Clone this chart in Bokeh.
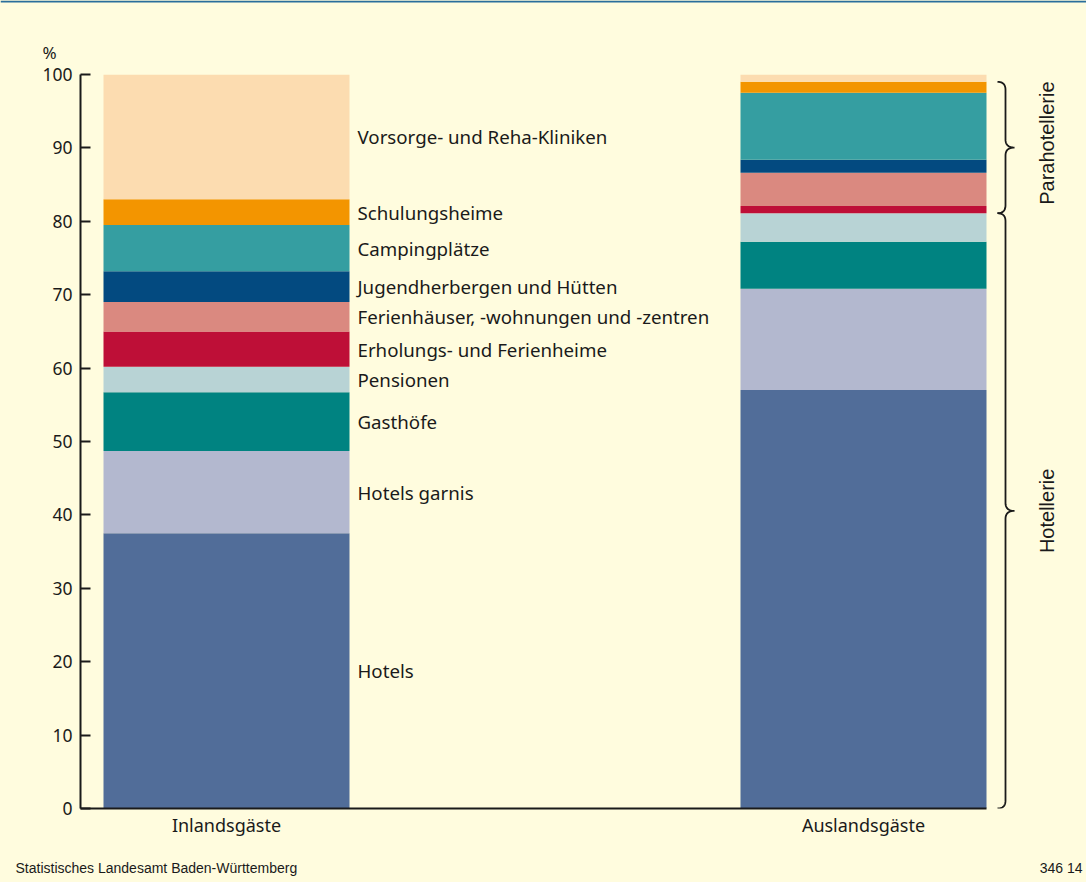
import numpy as np
from bokeh.plotting import figure
from bokeh.models import ColumnDataSource, Range1d, FixedTicker, Column
from bokeh.core.properties import value
from bokeh.embed import file_html
from bokeh.resources import INLINE

# ---------------- data ----------------
groups = ["Inlandsgäste", "Auslandsgäste"]
categories = [
    "Hotels",
    "Hotels garnis",
    "Gasthöfe",
    "Pensionen",
    "Erholungs- und Ferienheime",
    "Ferienhäuser, -wohnungen und -zentren",
    "Jugendherbergen und Hütten",
    "Campingplätze",
    "Schulungsheime",
    "Vorsorge- und Reha-Kliniken",
]
inland = [37.5, 11.2, 8.0, 3.5, 4.8, 4.0, 4.2, 6.3, 3.5, 17.0]
ausland = [57.0, 13.8, 6.4, 3.9, 1.0, 4.5, 1.8, 9.1, 1.5, 1.0]
colors = ["#516d99", "#b3b8cf", "#008381", "#b8d3d5", "#be0f37",
          "#da8980", "#034a80", "#359ea1", "#f39500", "#fcdcb0"]
y_ticks = list(range(0, 101, 10))
bracket_labels = ["Hotellerie", "Parahotellerie"]
hotellerie_n = 4          # first 4 categories = Hotellerie
parahotellerie_n = 5      # next 5 categories = Parahotellerie
unit_label = "%"
source_note = "Statistisches Landesamt Baden-Württemberg"
chart_id = "346 14"

# ---------------- layout helpers ----------------
W = 1086
HEAD_H, MAIN_H, FOOT_H = 63, 785, 34
BG = "#fffcde"
INK = "#1a1a1a"
PX_X = 637.0            # pixels per category step
PX_Y = 7.34             # pixels per percent
X_ORIGIN_PX = 226.0     # page x of first category centre
BAR_W = 246.0 / PX_X

def dx(px):
    return (px - X_ORIGIN_PX) / PX_X

def deco_fig(h, y_top):
    f = figure(width=W, height=h, x_range=Range1d(0, W), y_range=Range1d(y_top + h, y_top),
               x_axis_type=None, y_axis_type=None, output_backend="svg",
               toolbar_location=None, min_border=0, frame_align=False)
    f.background_fill_color = BG
    f.border_fill_color = BG
    f.outline_line_color = None
    f.xgrid.visible = False
    f.ygrid.visible = False
    return f

# ---------------- header ----------------
head = deco_fig(HEAD_H, 0)
head.quad(left=[0], right=[W], top=[0], bottom=[2], fill_color="#2a6e9b", line_color=None)
head.text(x=[42], y=[52], text=[unit_label], text_baseline="middle", text_align="left",
          text_font=value("Noto Sans"), text_font_size="17px", text_color=INK)

# ---------------- main chart ----------------
x_start, x_end = dx(80), dx(1086)
p = figure(width=W, height=MAIN_H, x_range=Range1d(x_start, x_end), y_range=Range1d(0, 100),
           output_backend="svg", toolbar_location=None, frame_align=False,
           min_border_left=80, min_border_right=0, min_border_top=11, min_border_bottom=40)
p.background_fill_color = BG
p.border_fill_color = BG
p.outline_line_color = None
p.xgrid.visible = False
p.ygrid.visible = False

keys = [f"c{i}" for i in range(len(categories))]
data = {"x": [0, 1]}
for k, a, b in zip(keys, inland, ausland):
    data[k] = [a, b]
src = ColumnDataSource(data)
p.vbar_stack(keys, x="x", width=BAR_W, fill_color=colors, line_color=None, source=src)

# category labels next to the first bar, at segment midpoints
cum = np.cumsum(inland)
mids = cum - np.array(inland) / 2.0
p.text(x=[BAR_W / 2 + 8 / PX_X] * len(categories), y=list(mids), text=categories,
       text_font=value("Noto Sans"), text_font_size="18.7px", text_baseline="middle",
       text_align="left", text_color=INK)

# y axis
ya = p.yaxis[0]
ya.ticker = FixedTicker(ticks=y_ticks)
ya.major_tick_in = 10
ya.major_tick_out = 0
ya.minor_tick_line_color = None
ya.axis_line_width = 2
ya.axis_line_color = INK
ya.major_tick_line_width = 2
ya.major_tick_line_color = INK
ya.major_label_text_font = "Noto Sans"
ya.major_label_text_font_size = "17.5px"
ya.major_label_text_color = INK
ya.major_label_standoff = 8

# x axis
xa = p.xaxis[0]
xa.ticker = FixedTicker(ticks=[0, 1])
xa.major_label_overrides = {0: groups[0], 1: groups[1]}
xa.bounds = (x_start, 1 + BAR_W / 2)
xa.axis_line_width = 2
xa.axis_line_color = INK
xa.major_tick_line_color = None
xa.major_tick_in = 0
xa.major_tick_out = 0
xa.minor_tick_line_color = None
xa.major_label_text_font = "Noto Sans"
xa.major_label_text_font_size = "18px"
xa.major_label_text_color = INK
xa.major_label_standoff = 4

# braces next to the second bar
cum_a = np.cumsum(ausland)
xb = 1 + BAR_W / 2 + 19 / PX_X
cx = 8 / PX_X
tip = 9 / PX_X
r = 8 / PX_Y

def qbez(p0, p1, p2, n=12):
    t = np.linspace(0, 1, n)
    xs = (1 - t) ** 2 * p0[0] + 2 * (1 - t) * t * p1[0] + t ** 2 * p2[0]
    ys = (1 - t) ** 2 * p0[1] + 2 * (1 - t) * t * p1[1] + t ** 2 * p2[1]
    return list(xs), list(ys)

def brace(y_lo, y_hi):
    mid = (y_lo + y_hi) / 2
    xs, ys = [], []
    for seg in [
        qbez((xb - cx, y_hi), (xb, y_hi), (xb, y_hi - r)),
        ([xb, xb], [y_hi - r, mid + r]),
        qbez((xb, mid + r), (xb, mid), (xb + tip, mid)),
        qbez((xb + tip, mid), (xb, mid), (xb, mid - r)),
        ([xb, xb], [mid - r, y_lo + r]),
        qbez((xb, y_lo + r), (xb, y_lo), (xb - cx, y_lo)),
    ]:
        xs += list(seg[0])
        ys += list(seg[1])
    return xs, ys

hot_lo, hot_hi = 0.0, float(cum_a[hotellerie_n - 1])
para_lo, para_hi = hot_hi, float(cum_a[hotellerie_n + parahotellerie_n - 1])
for lo, hi in [(hot_lo, hot_hi), (para_lo, para_hi)]:
    bx, by = brace(lo, hi)
    p.line(bx, by, line_width=1.8, line_color=INK)

p.text(x=[dx(1046)] * 2, y=[(hot_lo + hot_hi) / 2, (para_lo + para_hi) / 2 + 0.6],
       text=bracket_labels, angle=np.pi / 2, text_align="center", text_baseline="middle",
       text_font=value("Liberation Sans"), text_font_size="20px", text_color=INK)

# ---------------- footer ----------------
foot = deco_fig(FOOT_H, HEAD_H + MAIN_H)
foot.text(x=[15], y=[867], text=[source_note], text_baseline="middle", text_align="left",
          text_font=value("Liberation Sans"), text_font_size="14px", text_color=INK)
foot.text(x=[1082], y=[867], text=[chart_id], text_baseline="middle", text_align="right",
          text_font=value("Liberation Sans"), text_font_size="14px", text_color=INK)

layout = Column(children=[head, p, foot], spacing=0,
                styles={"position": "absolute", "left": "0px", "top": "0px",
                        "background-color": BG})

open("out.html", "w").write(file_html(layout, INLINE))
